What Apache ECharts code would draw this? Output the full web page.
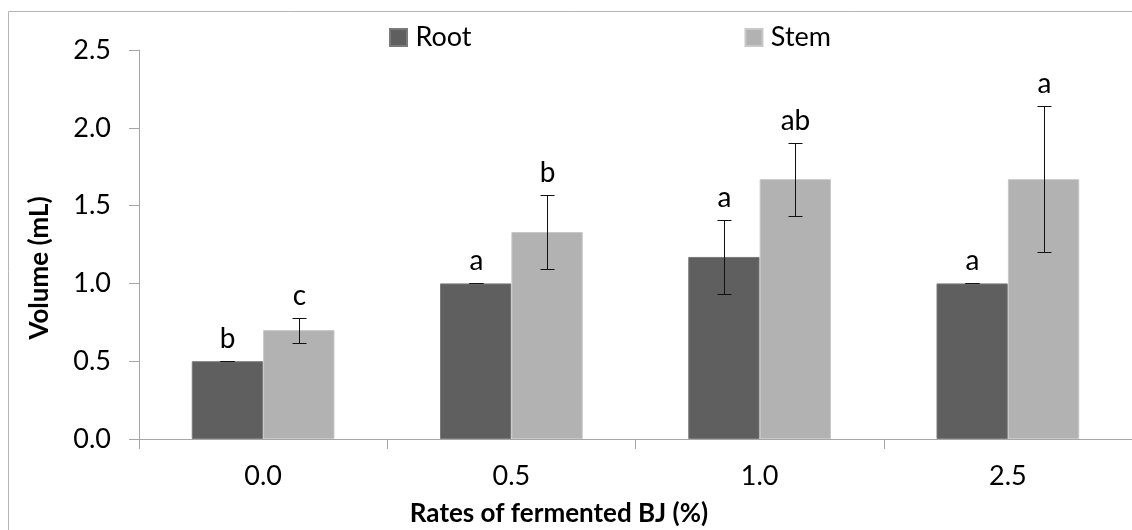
<!DOCTYPE html>
<html><head><meta charset="utf-8">
<script src="https://cdn.jsdelivr.net/npm/echarts@6/dist/echarts.min.js"></script>
<style>html,body{margin:0;padding:0;background:#fff}#c{width:1132px;height:530px}</style>
</head><body><div id="c"></div>
<script>
const categories = ['0.0', '0.5', '1.0', '2.5'];
const rootValues = [0.50, 1.00, 1.17, 1.00];
const stemValues = [0.70, 1.33, 1.67, 1.67];
const rootErrors = [0, 0, 0.235, 0];
const stemErrors = [0.08, 0.235, 0.235, 0.47];
const rootLetters = ['b', 'a', 'a', 'a'];
const stemLetters = ['c', 'b', 'ab', 'a'];

const GAP = 0.425;
const FONT = 'Lato';

function errSeries(name, values, errors, letters, sign) {
  return {
    type: 'custom',
    name: name + ' err',
    z: 10,
    silent: true,
    data: values.map((v, i) => [i, v, errors[i]]),
    renderItem: function (params, api) {
      const i = api.value(0), v = api.value(1), e = api.value(2);
      const band = api.size([1, 0])[0];
      const bw = band * (1 - GAP) / 2;
      const c = api.coord([i, v]);
      const x = Math.round(c[0] + sign * bw / 2) + 0.5;
      const top = Math.round(api.coord([i, v + e])[1]) + 0.5;
      const bot = Math.round(api.coord([i, v - e])[1]) + 0.5;
      const st = { stroke: '#111', lineWidth: 1 };
      return {
        type: 'group',
        children: [
          { type: 'line', shape: { x1: x, y1: top, x2: x, y2: bot }, style: st },
          { type: 'line', shape: { x1: x - 7, y1: top, x2: x + 7, y2: top }, style: st },
          { type: 'line', shape: { x1: x - 7, y1: bot, x2: x + 7, y2: bot }, style: st },
          { type: 'text', x: x, y: top - 9,
            style: { text: letters[params.dataIndex], fill: '#000', font: '28px ' + FONT,
                     textAlign: 'center', textVerticalAlign: 'bottom' } }
        ]
      };
    }
  };
}

const chart = echarts.init(document.getElementById('c'), null, { renderer: 'canvas' });
chart.setOption({
  animation: false,
  backgroundColor: '#fff',
  textStyle: { fontFamily: FONT },
  grid: { left: 139, top: 50, width: 998, height: 389 },
  legend: {
    left: 389, top: 24, padding: 0, itemWidth: 17, itemHeight: 17, itemGap: 273,
    icon: 'rect',
    formatter: n => '\u2009' + n,
    textStyle: { fontSize: 27, color: '#000', fontFamily: FONT },
    data: ['Root', 'Stem']
  },
  xAxis: {
    type: 'category', data: categories,
    axisLine: { lineStyle: { color: '#a6a6a6', width: 1 } },
    axisTick: { show: true, length: 10, inside: false, alignWithLabel: false, lineStyle: { color: '#a6a6a6' } },
    axisLabel: { fontSize: 27, color: '#000', margin: 24, fontFamily: FONT },
    splitLine: { show: false }
  },
  yAxis: {
    type: 'value', min: 0, max: 2.5, interval: 0.5,
    axisLine: { show: true, lineStyle: { color: '#a6a6a6', width: 1 } },
    axisTick: { show: true, length: 10, lineStyle: { color: '#a6a6a6' } },
    axisLabel: { fontSize: 27, color: '#000', margin: 28, fontFamily: FONT, formatter: v => v.toFixed(1) },
    splitLine: { show: false }
  },
  graphic: [
    { type: 'rect', shape: { x: 8.5, y: 11.5, width: 1300, height: 700 },
      style: { fill: null, stroke: '#b4b4b4', lineWidth: 1 }, silent: true, z: -1 },
    { type: 'text', x: 40, y: 268, rotation: Math.PI / 2,
      style: { text: 'Volume (mL)', font: 'bold 26px ' + FONT, fill: '#000', textAlign: 'center', textVerticalAlign: 'middle' } },
    { type: 'text', x: 559, y: 514,
      style: { text: 'Rates of fermented BJ (%)', font: 'bold 26px ' + FONT, fill: '#000', textAlign: 'center', textVerticalAlign: 'middle' } }
  ],
  series: [
    { type: 'bar', name: 'Root', data: rootValues, barGap: '0%', barCategoryGap: (GAP * 100) + '%',
      itemStyle: { color: '#5f5f5f', borderColor: '#7a7a7a', borderWidth: 1 } },
    { type: 'bar', name: 'Stem', data: stemValues, barGap: '0%', barCategoryGap: (GAP * 100) + '%',
      itemStyle: { color: '#b2b2b2', borderColor: '#c8c8c8', borderWidth: 1 } },
    errSeries('Root', rootValues, rootErrors, rootLetters, -1),
    errSeries('Stem', stemValues, stemErrors, stemLetters, 1)
  ]
});
</script>
</body></html>
